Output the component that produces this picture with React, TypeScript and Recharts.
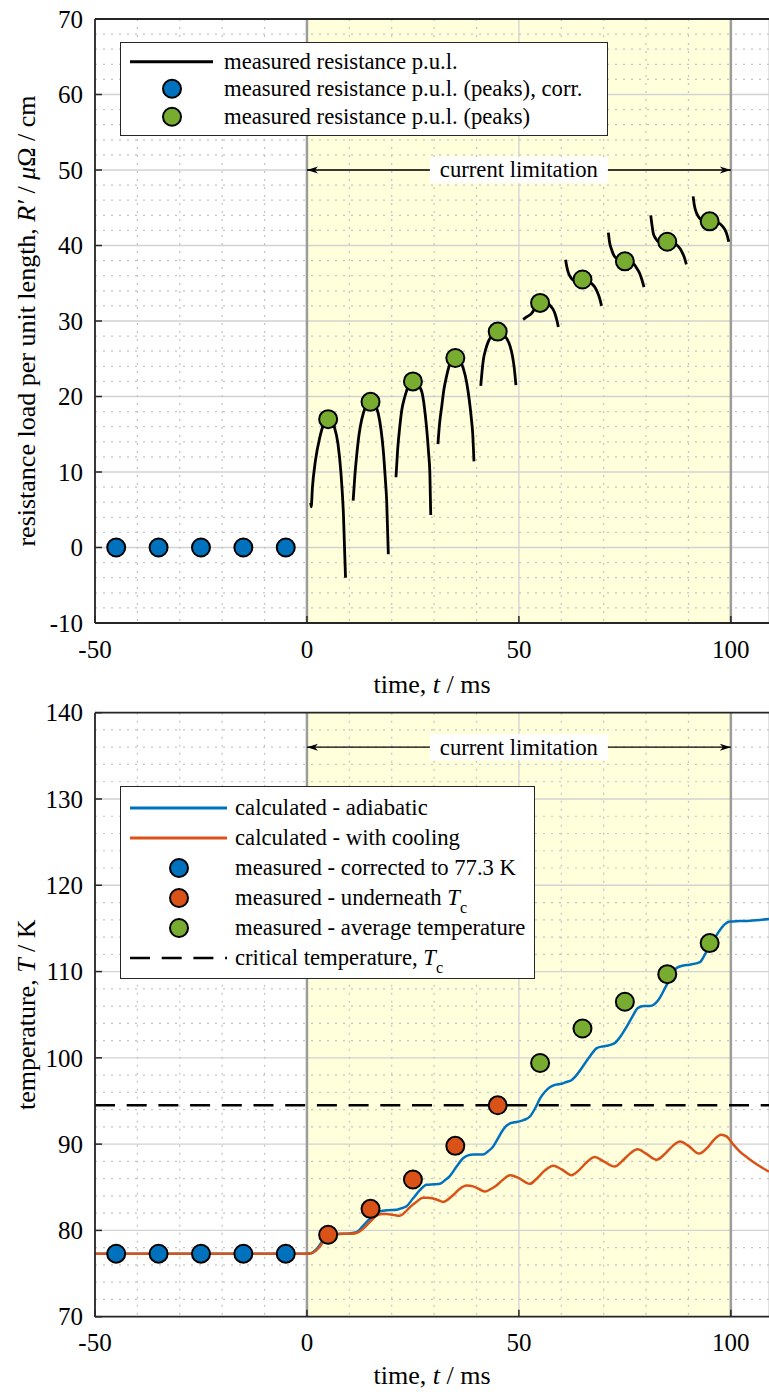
import React from 'react';
import {
  ComposedChart,
  Line,
  Scatter,
  XAxis,
  YAxis,
  CartesianGrid,
  ReferenceArea,
  ReferenceLine,
  Legend,
} from 'recharts';

const FONT = '"Liberation Serif", "Times New Roman", serif';
const BLUE = '#0072BD';
const ORANGE = '#D95319';
const GREEN = '#77AC30';
const AXIS = '#262626';
const YELLOW = '#FFFFDC';

// ---------- shared axis values ----------
const xDomain = [-50, 109];
const xTicks = [-50, 0, 50, 100];
const xMinor = [-40, -30, -20, -10, 10, 20, 30, 40, 60, 70, 80, 90];
const limitStart = 0;
const limitEnd = 100;

// ---------- top panel: resistance ----------
const rDomain = [-10, 70];
const rTicks = [-10, 0, 10, 20, 30, 40, 50, 60, 70];
const rMinor = [-8, -6, -4, -2, 2, 4, 6, 8, 12, 14, 16, 18, 22, 24, 26, 28, 32, 34, 36, 38, 42, 44, 46, 48, 52, 54, 56, 58, 62, 64, 66, 68];
const rArrowLevel = 50;

const seg1: [number, number][] = [[0.9, 5.9], [1.0, 5.4], [1.3, 8.0], [2.0, 11.5], [3.0, 14.5], [4.0, 16.4], [4.8, 17.0], [5.6, 16.9], [6.5, 15.9], [7.3, 13.8], [8.0, 10.0], [8.6, 4.5], [9.1, -4.0]];
const seg2: [number, number][] = [[10.9, 6.2], [11.3, 9.5], [11.7, 12.0], [12.3, 15.0], [12.9, 16.9], [13.8, 18.6], [14.9, 19.3], [16.0, 18.9], [16.8, 17.8], [17.5, 15.5], [18.0, 12.9], [18.5, 9.0], [18.8, 6.3], [19.2, -0.9]];
const seg3: [number, number][] = [[21.0, 9.3], [21.4, 13.0], [21.9, 16.0], [22.4, 18.3], [23.1, 20.0], [23.9, 21.3], [24.8, 22.0], [26.0, 21.7], [27.1, 20.6], [27.7, 18.6], [28.2, 16.0], [28.7, 12.5], [29.0, 9.8], [29.2, 4.3]];
const seg4: [number, number][] = [[30.9, 13.7], [31.3, 16.5], [31.8, 18.7], [32.3, 20.9], [32.9, 22.6], [33.7, 24.3], [34.7, 25.1], [35.9, 24.8], [36.9, 23.7], [37.7, 21.8], [38.3, 19.5], [38.8, 17.0], [39.1, 15.1], [39.4, 11.4]];
const seg5: [number, number][] = [[41.0, 21.4], [41.3, 23.3], [41.6, 24.8], [42.2, 26.3], [42.8, 27.3], [43.8, 28.2], [44.9, 28.6], [46.0, 28.4], [47.1, 27.7], [47.9, 26.7], [48.5, 25.3], [48.9, 23.8], [49.3, 21.5]];
const seg6: [number, number][] = [[51.0, 30.2], [52.0, 30.6], [53.0, 31.0], [54.0, 31.9], [55.0, 32.4], [56.0, 32.6], [57.3, 32.1], [58.0, 31.6], [58.5, 31.0], [59.0, 30.0], [59.3, 29.2]];
const seg7: [number, number][] = [[61.0, 38.1], [61.3, 37.2], [61.6, 36.5], [62.2, 35.8], [62.8, 35.4], [63.8, 35.3], [64.8, 35.5], [66.0, 35.4], [67.1, 35.0], [67.9, 34.5], [68.6, 33.7], [69.1, 32.9], [69.5, 32.0]];
const seg8: [number, number][] = [[71.1, 41.7], [71.4, 40.4], [71.9, 39.4], [72.4, 38.7], [73.0, 38.3], [73.8, 38.0], [74.6, 37.9], [75.8, 37.8], [77.0, 37.6], [77.8, 37.0], [78.5, 36.3], [79.0, 35.5], [79.5, 34.5]];
const seg9: [number, number][] = [[81.1, 44.0], [81.4, 42.7], [81.7, 41.6], [82.3, 40.9], [82.9, 40.5], [84.0, 40.4], [85.1, 40.5], [86.2, 40.4], [87.2, 40.1], [88.0, 39.6], [88.6, 39.0], [89.1, 38.3], [89.5, 37.5]];
const seg10: [number, number][] = [[91.1, 46.5], [91.4, 45.3], [91.9, 44.3], [92.5, 43.7], [93.1, 43.4], [94.0, 43.2], [95.0, 43.2], [96.2, 43.1], [97.4, 42.9], [98.1, 42.5], [98.6, 42.1], [99.1, 41.4], [99.5, 40.5]];
const resistanceSegments = [seg1, seg2, seg3, seg4, seg5, seg6, seg7, seg8, seg9, seg10];

const corrTimes = [-45, -35, -25, -15, -5];
const corrValues = [0, 0, 0, 0, 0];
const peakTimes = [5, 15, 25, 35, 45, 55, 65, 75, 85, 95];
const peakValues = [17.0, 19.3, 22.0, 25.1, 28.6, 32.4, 35.5, 37.9, 40.5, 43.2];

// ---------- bottom panel: temperature ----------
const kDomain = [70, 140];
const kTicks = [70, 80, 90, 100, 110, 120, 130, 140];
const kMinor = [72, 74, 76, 78, 82, 84, 86, 88, 92, 94, 96, 98, 102, 104, 106, 108, 112, 114, 116, 118, 122, 124, 126, 128, 132, 134, 136, 138];
const kArrowLevel = 136;
const criticalTemp = 94.5;

const adiabatic: [number, number][] = [
  [-50, 77.3], [0, 77.3], [1, 77.35], [2, 77.7], [3, 78.3], [4, 79.0], [5, 79.4], [6.5, 79.55], [8.6, 79.6], [10, 79.65],
  [11.7, 79.8], [13, 80.4], [14.5, 81.2], [16, 81.8], [17.2, 82.2], [19, 82.35], [21.2, 82.4], [22.5, 82.6], [23.5, 82.8],
  [25, 83.7], [26.7, 84.7], [28.2, 85.3], [30, 85.35], [31.4, 85.4], [32.5, 85.8], [33.7, 86.3], [35.3, 87.4], [36.9, 88.4],
  [38, 88.7], [39.2, 88.8], [41.6, 88.8], [42.8, 89.2], [43.9, 89.7], [45, 90.6], [46.3, 91.7], [47.9, 92.4], [49.8, 92.6],
  [51.2, 92.8], [52.6, 93.2], [54, 94.3], [55, 95.3], [56.2, 96.1], [57.3, 96.6], [58.7, 96.9], [60.1, 97.0], [61.2, 97.2],
  [62.4, 97.4], [63.6, 98.0], [64.8, 98.8], [66.5, 100.0], [68.3, 101.1], [69.5, 101.3], [70.7, 101.4], [72.6, 101.7],
  [74, 102.5], [75.4, 103.6], [76.8, 104.8], [78.1, 105.8], [79.5, 106.0], [80.9, 106.0], [82.9, 106.7], [84.8, 108.4],
  [86, 109.5], [87.2, 110.4], [88.8, 110.7], [90.3, 110.8], [92.7, 111.1], [93.8, 111.9], [95, 112.9], [96.2, 113.9],
  [97.4, 114.8], [98.6, 115.5], [99.8, 115.8], [102, 115.85], [104.5, 115.9], [109, 116.1],
];
const withCooling: [number, number][] = [
  [-50, 77.3], [0, 77.3], [1, 77.35], [2, 77.6], [3, 78.1], [4, 78.8], [5, 79.3], [6.5, 79.55], [7.8, 79.6], [10, 79.6],
  [11.7, 79.7], [13, 80.1], [14.1, 80.6], [15.3, 81.2], [16.4, 81.7], [17.6, 81.9], [18.8, 81.9], [20.3, 81.8], [21.9, 81.7],
  [23.1, 82.1], [24.3, 82.7], [25.8, 83.3], [27.4, 83.8], [28.6, 83.8], [29.8, 83.7], [31, 83.5], [32.1, 83.3], [33.3, 83.6],
  [34.5, 84.1], [36, 84.8], [37.7, 85.2], [39.2, 85.1], [40.6, 84.8], [42, 84.5], [43.4, 84.8], [44.7, 85.2], [46.3, 85.9],
  [47.9, 86.4], [49.3, 86.2], [50.2, 86.0], [51.5, 85.6], [52.6, 85.4], [54, 85.9], [56, 86.9], [58.1, 87.5], [60, 87.1],
  [62.4, 86.4], [64, 86.9], [66, 87.9], [67.9, 88.5], [70, 88.0], [72.6, 87.4], [74.5, 88.1], [76.2, 88.9], [78, 89.4],
  [80, 88.9], [82.5, 88.2], [84.5, 88.9], [86.3, 89.8], [88, 90.3], [90, 89.8], [92.5, 88.9], [94.5, 89.6], [96, 90.5],
  [97.7, 91.1], [99, 90.9], [100.5, 90.0], [102, 89.2], [104, 88.4], [106, 87.7], [109, 86.8],
];
const measCorrTimes = [-45, -35, -25, -15, -5];
const measCorrValues = [77.3, 77.3, 77.3, 77.3, 77.3];
const measBelowTimes = [5, 15, 25, 35, 45];
const measBelowValues = [79.5, 82.5, 85.9, 89.8, 94.5];
const measAvgTimes = [55, 65, 75, 85, 95];
const measAvgValues = [99.4, 103.4, 106.5, 109.7, 113.3];

// ---------- helpers ----------
const toPts = (pairs: [number, number][]) => pairs.map(([t, v]) => ({ t, v }));
const zipPts = (ts: number[], vs: number[]) => ts.map((t, i) => ({ t, v: vs[i] }));

const Y_TICK_MARGIN = 12;
const X_TICK_MARGIN = 26;
const TICK_LEN = 7;
const TICK_FS = 25;
const TITLE_FS = 26;
const LEGEND_FS = 22.7;
const txtStyle = { fontFamily: FONT };

const YTick = (props: any) => {
  const { x, y, payload } = props;
  const axisX = x + Y_TICK_MARGIN;
  return (
    <g>
      <line x1={axisX} x2={axisX + TICK_LEN} y1={y} y2={y} stroke={AXIS} strokeWidth={1.5} />
      <text x={x} y={y} dy="0.35em" textAnchor="end" fontSize={TICK_FS} fill="#000" style={txtStyle}>
        {payload.value}
      </text>
    </g>
  );
};

// inward tick marks of the (cropped) right-hand box edge
const RTick = (props: any) => {
  const { x, y } = props;
  return <line x1={x - 3.5} x2={x} y1={y} y2={y} stroke={AXIS} strokeWidth={1.5} />;
};

const XTick = (props: any) => {
  const { x, y, payload } = props;
  const axisY = y - X_TICK_MARGIN;
  return (
    <g>
      <line x1={x} x2={x} y1={axisY} y2={axisY - TICK_LEN} stroke={AXIS} strokeWidth={1.5} />
      <text x={x} y={y} dy="0.35em" textAnchor="middle" fontSize={TICK_FS} fill="#000" style={txtStyle}>
        {payload.value}
      </text>
    </g>
  );
};

const XTitle = (props: any) => (
  <text x={props.cx} y={props.cy} dy="0.35em" textAnchor="middle" fontSize={TITLE_FS} fill="#000" style={txtStyle}>
    time, <tspan fontStyle="italic">t</tspan> / ms
  </text>
);

const YTitle = (props: any) => (
  <text
    transform={`translate(${props.cx},${props.cy}) rotate(-90)`}
    dy="0.35em"
    textAnchor="middle"
    fontSize={TITLE_FS}
    fill="#000"
    style={txtStyle}
  >
    {props.children}
  </text>
);

const makeDot = (color: string) => (p: any) => (
  <circle cx={p.cx} cy={p.cy} r={9} fill={color} stroke="#000" strokeWidth={2} />
);

const LimitArrow = (props: any) => {
  const { x1, y1, x2 } = props;
  const y = y1;
  const mid = (x1 + x2) / 2;
  return (
    <g>
      <line x1={x1} x2={x2} y1={y} y2={y} stroke="#000" strokeWidth={1.3} />
      <polygon points={`${x1},${y} ${x1 + 11},${y - 3.5} ${x1 + 8},${y} ${x1 + 11},${y + 3.5}`} fill="#000" />
      <polygon points={`${x2},${y} ${x2 - 11},${y - 3.5} ${x2 - 8},${y} ${x2 - 11},${y + 3.5}`} fill="#000" />
      <rect x={mid - 89} y={y - 13} width={178} height={26} fill="#fff" />
      <text x={mid} y={y} dy="0.33em" textAnchor="middle" fontSize={LEGEND_FS} fill="#000" style={txtStyle}>
        current limitation
      </text>
    </g>
  );
};

type Row = { kind: 'line' | 'dot' | 'dash'; color: string; text: React.ReactNode };

const LegendBox = (p: {
  rows: Row[];
  width: number;
  rowH: number;
  padTop: number;
  padBottom: number;
  sx1: number;
  sx2: number;
  dotX: number;
  textX: number;
}) => (
  <div
    style={{
      width: p.width,
      boxSizing: 'border-box',
      border: `1.3px solid ${AXIS}`,
      background: '#fff',
      paddingTop: p.padTop,
      paddingBottom: p.padBottom,
      fontFamily: FONT,
      fontSize: LEGEND_FS,
      color: '#000',
    }}
  >
    {p.rows.map((r, i) => (
      <div key={i} style={{ position: 'relative', height: p.rowH }}>
        <svg width={p.sx2 + 10} height={p.rowH} style={{ position: 'absolute', left: 0, top: 0, overflow: 'visible' }}>
          {r.kind === 'dot' ? (
            <circle cx={p.dotX} cy={p.rowH / 2} r={9} fill={r.color} stroke="#000" strokeWidth={2} />
          ) : (
            <line
              x1={p.sx1}
              x2={p.sx2}
              y1={p.rowH / 2}
              y2={p.rowH / 2}
              stroke={r.color}
              strokeWidth={r.kind === 'dash' ? 2.5 : 2.8}
              strokeDasharray={r.kind === 'dash' ? '20 11.7' : undefined}
            />
          )}
        </svg>
        <div
          style={{
            position: 'absolute',
            left: p.textX,
            top: 0,
            height: p.rowH,
            lineHeight: `${p.rowH}px`,
            whiteSpace: 'nowrap',
          }}
        >
          {r.text}
        </div>
      </div>
    ))}
  </div>
);

const Tc = () => (
  <span>
    <i>T</i>
    <span style={{ fontSize: 16, position: 'relative', top: 8 }}>c</span>
  </span>
);

const topRows: Row[] = [
  { kind: 'line', color: '#000', text: 'measured resistance p.u.l.' },
  { kind: 'dot', color: BLUE, text: 'measured resistance p.u.l. (peaks), corr.' },
  { kind: 'dot', color: GREEN, text: 'measured resistance p.u.l. (peaks)' },
];

const bottomRows: Row[] = [
  { kind: 'line', color: BLUE, text: 'calculated - adiabatic' },
  { kind: 'line', color: ORANGE, text: 'calculated - with cooling' },
  { kind: 'dot', color: BLUE, text: 'measured - corrected to 77.3 K' },
  { kind: 'dot', color: ORANGE, text: <span>measured - underneath <Tc /></span> },
  { kind: 'dot', color: GREEN, text: 'measured - average temperature' },
  { kind: 'dash', color: '#000', text: <span>critical temperature, <Tc /></span> },
];

const W = 769;
const TOP_H = 700;
const BOT_H = 692;

export default function App() {
  return (
    <div style={{ position: 'absolute', left: 0, top: 0, width: W, height: 1392, background: '#fff', fontFamily: FONT }}>
      {/* ---------------- top panel ---------------- */}
      <div style={{ position: 'absolute', left: 0, top: 0 }}>
        <ComposedChart width={W} height={TOP_H} margin={{ top: 19, right: 0, left: 35, bottom: 0 }}>
          <ReferenceArea x1={limitStart} x2={limitEnd} y1={rDomain[0]} y2={rDomain[1]} fill={YELLOW} fillOpacity={1} stroke="none" zIndex={-200} />
          <CartesianGrid stroke="#d2d2d2" strokeWidth={1.3} zIndex={-100} />
          <CartesianGrid horizontalValues={rMinor} verticalValues={xMinor} stroke="#c4c4c4" strokeWidth={1.2} strokeDasharray="2 6" zIndex={-90} />
          <ReferenceLine x={limitStart} stroke="#9c9c9c" strokeWidth={2.5} />
          <ReferenceLine x={limitEnd} stroke="#9c9c9c" strokeWidth={2.5} />
          <ReferenceLine y={rDomain[1]} stroke={AXIS} strokeWidth={1.8} />
          <XAxis
            type="number"
            dataKey="t"
            domain={xDomain}
            ticks={xTicks}
            interval={0}
            allowDataOverflow
            height={77}
            tickLine={false}
            tickSize={0}
            tickMargin={X_TICK_MARGIN}
            tick={<XTick />}
            axisLine={{ stroke: AXIS, strokeWidth: 1.8 }}
            label={<XTitle cx={432} cy={684} />}
          />
          <YAxis
            type="number"
            dataKey="v"
            domain={rDomain}
            ticks={rTicks}
            interval={0}
            allowDataOverflow
            width={60}
            tickLine={false}
            tickSize={0}
            tickMargin={Y_TICK_MARGIN}
            tick={<YTick />}
            axisLine={{ stroke: AXIS, strokeWidth: 1.8 }}
            label={
              <YTitle cx={26} cy={321}>
                resistance load per unit length, <tspan fontStyle="italic">R′</tspan> /{' '}
                <tspan fontStyle="italic">μ</tspan>Ω / cm
              </YTitle>
            }
          />
          <YAxis
            yAxisId="right"
            orientation="right"
            type="number"
            domain={rDomain}
            ticks={rTicks}
            interval={0}
            allowDataOverflow
            width={0}
            tickLine={false}
            tickSize={0}
            tickMargin={0}
            axisLine={false}
            tick={<RTick />}
          />
          {resistanceSegments.map((seg, i) => (
            <Line
              key={`seg${i}`}
              data={toPts(seg)}
              dataKey="v"
              type="monotone"
              stroke="#000"
              strokeWidth={2.8}
              dot={false}
              activeDot={false}
              isAnimationActive={false}
            />
          ))}
          <Scatter data={zipPts(corrTimes, corrValues)} dataKey="v" shape={makeDot(BLUE)} isAnimationActive={false} />
          <Scatter data={zipPts(peakTimes, peakValues)} dataKey="v" shape={makeDot(GREEN)} isAnimationActive={false} />
          <ReferenceLine
            segment={[
              { x: limitStart, y: rArrowLevel },
              { x: limitEnd, y: rArrowLevel },
            ]}
            shape={(p: any) => <LimitArrow {...p} />}
          />
          <Legend
            layout="vertical"
            align="center"
            verticalAlign="middle"
            wrapperStyle={{ left: 120, top: 42, width: 'auto', height: 'auto' }}
            content={() => (
              <LegendBox rows={topRows} width={488} rowH={27.5} padTop={4.5} padBottom={5} sx1={9} sx2={92} dotX={51} textX={103} />
            )}
          />
        </ComposedChart>
      </div>

      {/* ---------------- bottom panel ---------------- */}
      <div style={{ position: 'absolute', left: 0, top: TOP_H }}>
        <ComposedChart width={W} height={BOT_H} margin={{ top: 12.7, right: 0, left: 35, bottom: 0 }}>
          <ReferenceArea x1={limitStart} x2={limitEnd} y1={kDomain[0]} y2={kDomain[1]} fill={YELLOW} fillOpacity={1} stroke="none" zIndex={-200} />
          <CartesianGrid stroke="#d2d2d2" strokeWidth={1.3} zIndex={-100} />
          <CartesianGrid horizontalValues={kMinor} verticalValues={xMinor} stroke="#c4c4c4" strokeWidth={1.2} strokeDasharray="2 6" zIndex={-90} />
          <ReferenceLine x={limitStart} stroke="#9c9c9c" strokeWidth={2.5} />
          <ReferenceLine x={limitEnd} stroke="#9c9c9c" strokeWidth={2.5} />
          <ReferenceLine y={kDomain[1]} stroke={AXIS} strokeWidth={1.8} />
          <XAxis
            type="number"
            dataKey="t"
            domain={xDomain}
            ticks={xTicks}
            interval={0}
            allowDataOverflow
            height={75.3}
            tickLine={false}
            tickSize={0}
            tickMargin={X_TICK_MARGIN}
            tick={<XTick />}
            axisLine={{ stroke: AXIS, strokeWidth: 1.8 }}
            label={<XTitle cx={432} cy={675} />}
          />
          <YAxis
            type="number"
            dataKey="v"
            domain={kDomain}
            ticks={kTicks}
            interval={0}
            allowDataOverflow
            width={60}
            tickLine={false}
            tickSize={0}
            tickMargin={Y_TICK_MARGIN}
            tick={<YTick />}
            axisLine={{ stroke: AXIS, strokeWidth: 1.8 }}
            label={
              <YTitle cx={26} cy={314.7}>
                temperature, <tspan fontStyle="italic">T</tspan> / K
              </YTitle>
            }
          />
          <YAxis
            yAxisId="right"
            orientation="right"
            type="number"
            domain={kDomain}
            ticks={kTicks}
            interval={0}
            allowDataOverflow
            width={0}
            tickLine={false}
            tickSize={0}
            tickMargin={0}
            axisLine={false}
            tick={<RTick />}
          />
          <Line data={toPts(adiabatic)} dataKey="v" type="monotone" stroke={BLUE} strokeWidth={2.5} dot={false} activeDot={false} isAnimationActive={false} />
          <Line data={toPts(withCooling)} dataKey="v" type="monotone" stroke={ORANGE} strokeWidth={2.5} dot={false} activeDot={false} isAnimationActive={false} />
          <ReferenceLine y={criticalTemp} stroke="#000" strokeWidth={2.5} strokeDasharray="20 11.7" />
          <Scatter data={zipPts(measCorrTimes, measCorrValues)} dataKey="v" shape={makeDot(BLUE)} isAnimationActive={false} />
          <Scatter data={zipPts(measBelowTimes, measBelowValues)} dataKey="v" shape={makeDot(ORANGE)} isAnimationActive={false} />
          <Scatter data={zipPts(measAvgTimes, measAvgValues)} dataKey="v" shape={makeDot(GREEN)} isAnimationActive={false} />
          <ReferenceLine
            segment={[
              { x: limitStart, y: kArrowLevel },
              { x: limitEnd, y: kArrowLevel },
            ]}
            shape={(p: any) => <LimitArrow {...p} />}
          />
          <Legend
            layout="vertical"
            align="center"
            verticalAlign="middle"
            wrapperStyle={{ left: 120, top: 86, width: 'auto', height: 'auto' }}
            content={() => (
              <LegendBox rows={bottomRows} width={415} rowH={30} padTop={5.5} padBottom={5.5} sx1={9} sx2={106} dotX={58} textX={114} />
            )}
          />
        </ComposedChart>
      </div>
    </div>
  );
}
